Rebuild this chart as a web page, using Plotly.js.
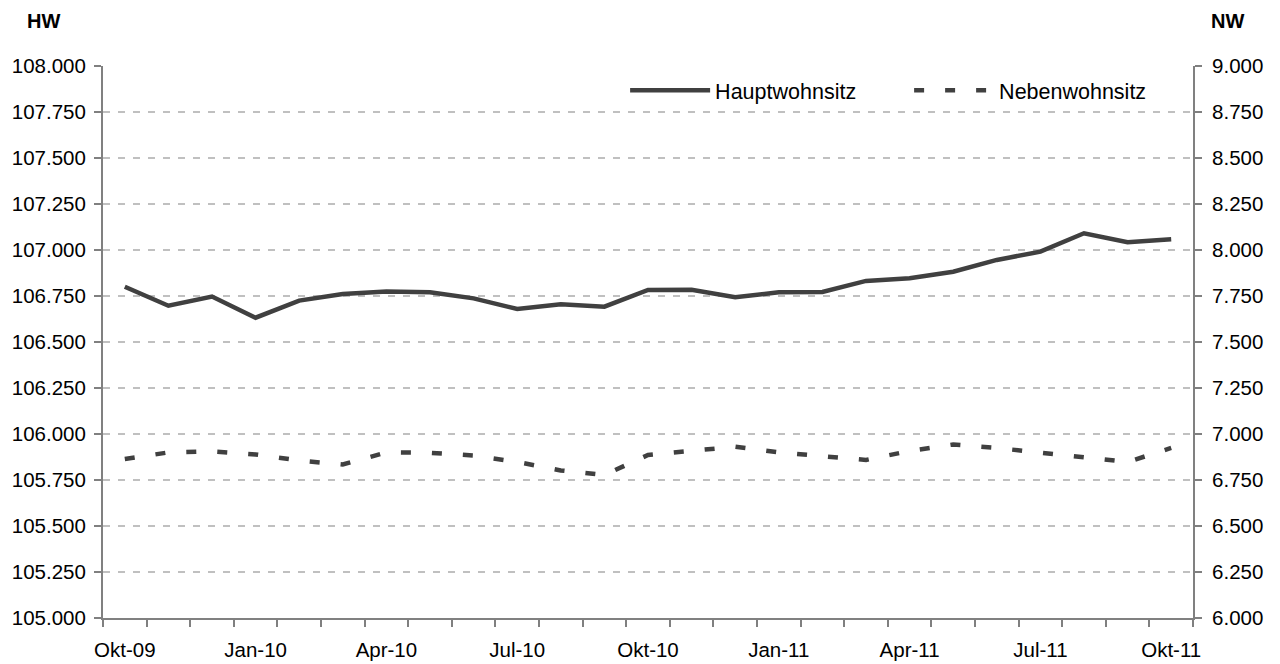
<!DOCTYPE html>
<html>
<head>
<meta charset="utf-8">
<script src="https://cdn.plot.ly/plotly-3.0.1.min.js"></script>
<style>html,body{margin:0;padding:0;background:#fff;}#chart{width:1280px;height:664px;}</style>
</head>
<body>
<div id="chart"></div>
<script>
const months = ["Okt-09","Nov-09","Dez-09","Jan-10","Feb-10","Mär-10","Apr-10","Mai-10","Jun-10","Jul-10","Aug-10","Sep-10","Okt-10","Nov-10","Dez-10","Jan-11","Feb-11","Mär-11","Apr-11","Mai-11","Jun-11","Jul-11","Aug-11","Sep-11","Okt-11"];
const tickLabels = ["Okt-09","","","Jan-10","","","Apr-10","","","Jul-10","","","Okt-10","","","Jan-11","","","Apr-11","","","Jul-11","","","Okt-11"];
const hauptwohnsitz = [106800,106697,106747,106632,106725,106761,106774,106770,106737,106679,106705,106692,106783,106784,106743,106770,106772,106832,106846,106882,106946,106991,107091,107042,107058];
const nebenwohnsitz = [6864,6900,6906,6889,6856,6834,6900,6898,6883,6848,6802,6777,6886,6906,6931,6900,6878,6859,6908,6943,6924,6900,6873,6848,6924];

const FONT = "Liberation Sans, Arial, sans-serif";
const TICKSIZE = 20.5;
const traces = [
  {x: months, y: hauptwohnsitz, name: "Hauptwohnsitz", type: "scatter", mode: "lines",
   line: {color: "#404040", width: 4.5}, yaxis: "y"},
  {x: months, y: nebenwohnsitz, name: "Nebenwohnsitz", type: "scatter", mode: "lines",
   line: {color: "#404040", width: 4.5, dash: "10px,21px"}, yaxis: "y2"}
];
const layout = {
  width: 1280, height: 664,
  margin: {l: 103, r: 87, t: 66, b: 46, autoexpand: false},
  paper_bgcolor: "#fff", plot_bgcolor: "#fff",
  separators: ",.",
  font: {family: FONT, size: TICKSIZE, color: "#000"},
  showlegend: true,
  legend: {orientation: "h", x: 0.479, xanchor: "left", y: 0.993, yanchor: "top",
    bgcolor: "rgba(0,0,0,0)", font: {family: FONT, size: 21.5}, itemwidth: 80,
    entrywidth: 189, entrywidthmode: "pixels", traceorder: "normal"},
  xaxis: {type: "category", tickvals: months, ticktext: tickLabels, tickson: "boundaries",
    tickangle: 0, automargin: false,
    ticks: "outside", ticklen: 7, tickwidth: 2, tickcolor: "#808080",
    showline: true, linecolor: "#808080", linewidth: 2, showgrid: false,
    tickfont: {family: FONT, size: TICKSIZE}, ticklabelstandoff: 12,
    range: [-0.5, 24.5], fixedrange: true},
  yaxis: {range: [105000, 108000], dtick: 250, tick0: 105000, tickformat: ",.0f",
    automargin: false,
    ticks: "outside", ticklen: 7, tickwidth: 2, tickcolor: "#808080",
    showline: true, linecolor: "#808080", linewidth: 2, zeroline: false,
    showgrid: true, gridcolor: "#c0c0c0", gridwidth: 2, griddash: "7px,8px",
    tickfont: {family: FONT, size: TICKSIZE}, ticklabelstandoff: 4},
  yaxis2: {range: [6000, 9000], dtick: 250, tick0: 6000, tickformat: ",.0f",
    overlaying: "y", side: "right", automargin: false,
    ticks: "outside", ticklen: 7, tickwidth: 2, tickcolor: "#808080",
    showline: true, linecolor: "#808080", linewidth: 2, zeroline: false, showgrid: false,
    tickfont: {family: FONT, size: TICKSIZE}, ticklabelstandoff: 6},
  annotations: [
    {text: "<b>HW</b>", xref: "paper", yref: "paper", x: -0.0716, y: 1.0815, xanchor: "left", yanchor: "middle",
     showarrow: false, font: {family: FONT, size: 20}},
    {text: "<b>NW</b>", xref: "paper", yref: "paper", x: 1.0147, y: 1.0815, xanchor: "left", yanchor: "middle",
     showarrow: false, font: {family: FONT, size: 20}}
  ]
};
Plotly.newPlot("chart", traces, layout, {displayModeBar: false, staticPlot: true});
</script>
</body>
</html>
